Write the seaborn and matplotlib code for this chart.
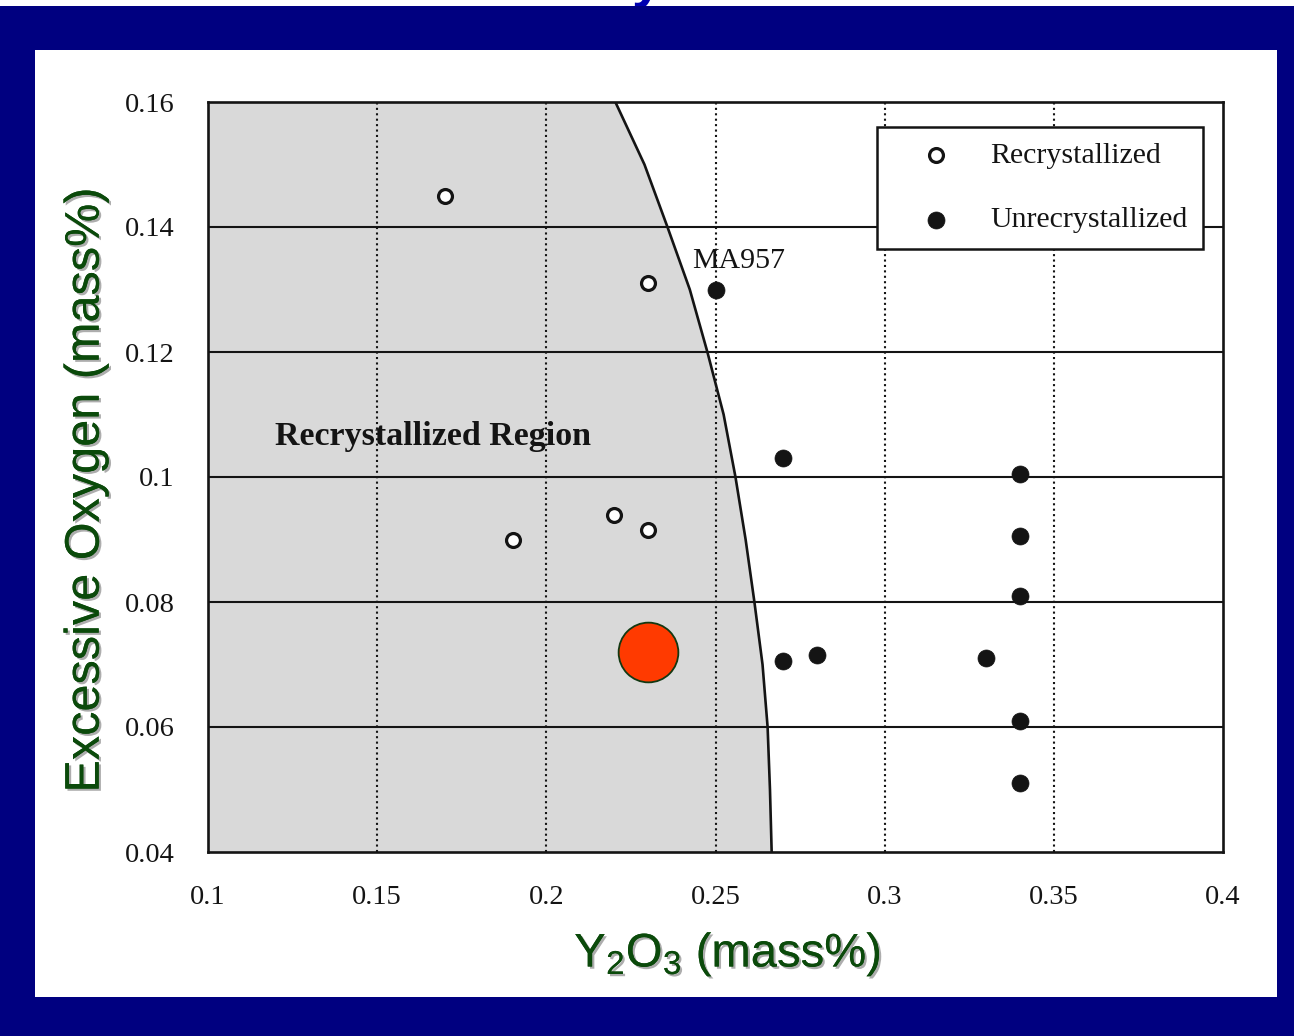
import matplotlib
matplotlib.use("Agg")
import matplotlib.pyplot as plt
import matplotlib.patheffects as pe
from matplotlib.patches import Rectangle
import pandas as pd
import seaborn as sns

# ---- data -------------------------------------------------------------
recryst_x = [0.17, 0.23, 0.19, 0.22, 0.23]
recryst_y = [0.145, 0.131, 0.090, 0.094, 0.0915]

unrecryst_x = [0.25, 0.27, 0.27, 0.28, 0.33, 0.34, 0.34, 0.34, 0.34, 0.34]
unrecryst_y = [0.130, 0.103, 0.0705, 0.0715, 0.071, 0.1005, 0.0905, 0.081, 0.061, 0.051]

highlight_x = [0.23]
highlight_y = [0.072]

# boundary of the recrystallized region (Y2O3 limit at each oxygen level)
boundary_y = [0.04, 0.05, 0.06, 0.07, 0.08, 0.09, 0.10, 0.11, 0.12, 0.13, 0.14, 0.15, 0.16]
boundary_x = [0.2666, 0.2661, 0.2654, 0.2639, 0.2615, 0.2589, 0.2559, 0.2524,
              0.2476, 0.2424, 0.2358, 0.2290, 0.2204]

x_ticks = [0.1, 0.15, 0.2, 0.25, 0.3, 0.35, 0.4]
x_tick_labels = ["0.1", "0.15", "0.2", "0.25", "0.3", "0.35", "0.4"]
y_ticks = [0.04, 0.06, 0.08, 0.10, 0.12, 0.14, 0.16]
y_tick_labels = ["0.04", "0.06", "0.08", "0.1", "0.12", "0.14", "0.16"]

# ---- style ------------------------------------------------------------
sns.set_theme(style="white")
plt.rcParams["font.family"] = ["Liberation Serif", "DejaVu Serif"]
plt.rcParams["mathtext.default"] = "regular"

NAVY = "#000080"
LABEL_GREEN = "#0b4a0b"
INK = "#141414"

W, H = 1294, 1036
fig = plt.figure(figsize=(W / 100, H / 100), dpi=100, facecolor=NAVY)

# slide frame: white strip on top, navy band, white panel
fig.add_artist(Rectangle((0, 1 - 6 / H), 1, 6 / H, transform=fig.transFigure,
                         facecolor="white", edgecolor="none", zorder=-3))
fig.text(647 / W, 1 + 4 / H, "y", color="#0000b0", fontsize=40,
         fontweight="bold", family=["Liberation Sans"], ha="center",
         va="baseline", zorder=-2)
fig.add_artist(Rectangle((0, 1 - 50 / H), 1, 44 / H, transform=fig.transFigure,
                         facecolor=NAVY, edgecolor="none", zorder=-1))
fig.add_artist(Rectangle((35 / W, 1 - 997 / H), 1242 / W, 947 / H,
                         transform=fig.transFigure, facecolor="white",
                         edgecolor="none", zorder=-1))

ax = fig.add_axes([208 / W, 1 - 852 / H, 1015 / W, 750 / H])
ax.set_facecolor("white")
ax.set_zorder(1)

# shaded recrystallized region and its boundary
ax.fill_betweenx(boundary_y, 0.1, boundary_x, color="#d9d9d9", zorder=0.5, lw=0)
ax.plot(boundary_x, boundary_y, color=INK, lw=1.9, zorder=2, solid_joinstyle="round")

# grid: solid horizontals, dotted verticals
for yv in y_ticks[1:-1]:
    ax.axhline(yv, color=INK, lw=1.5, zorder=1.5)
for xv in x_ticks[1:-1]:
    ax.axvline(xv, color=INK, lw=1.5, ls=(0, (1, 1.6)), zorder=1.5)

df_r = pd.DataFrame({"x": recryst_x, "y": recryst_y})
df_u = pd.DataFrame({"x": unrecryst_x, "y": unrecryst_y})
df_h = pd.DataFrame({"x": highlight_x, "y": highlight_y})

sns.scatterplot(data=df_r, x="x", y="y", ax=ax, s=100, color="white",
                edgecolor=INK, linewidth=2.3, label="Recrystallized", zorder=3)
sns.scatterplot(data=df_u, x="x", y="y", ax=ax, s=150, color=INK,
                edgecolor=INK, linewidth=0.5, label="Unrecrystallized", zorder=3)
sns.scatterplot(data=df_h, x="x", y="y", ax=ax, s=1850, color="#ff3a00",
                edgecolor="#123812", linewidth=1.3, zorder=4, legend=False)

ax.text(0.2432, 0.1346, "MA957", fontsize=21.5, color=INK, va="center", ha="left", zorder=3)
ax.text(0.1198, 0.1064, "Recrystallized Region", fontsize=24.5, fontweight="bold",
        color=INK, va="center", ha="left", zorder=3)

leg = ax.legend(loc="upper right", bbox_to_anchor=(0.980, 0.967), borderaxespad=0,
                frameon=True, fancybox=False, fontsize=21.5, labelspacing=1.25,
                handletextpad=0.35, borderpad=0.52, handlelength=2.9,
                markerscale=1.0)
leg.get_frame().set_edgecolor(INK)
leg.get_frame().set_linewidth(1.8)
leg.get_frame().set_facecolor("white")
leg.get_frame().set_alpha(1)
for t in leg.get_texts():
    t.set_color(INK)

ax.set_xlim(0.1, 0.4)
ax.set_ylim(0.04, 0.16)
ax.set_xticks(x_ticks)
ax.set_xticklabels(x_tick_labels)
ax.set_yticks(y_ticks)
ax.set_yticklabels(y_tick_labels)
ax.tick_params(axis="both", length=0, labelsize=20.5, labelcolor=INK)
ax.tick_params(axis="x", pad=24)
ax.tick_params(axis="y", pad=24)
for s in ax.spines.values():
    s.set_visible(True)
    s.set_color(INK)
    s.set_linewidth(1.9)

shadow = [pe.withSimplePatchShadow(offset=(1.6, -1.6), shadow_rgbFace="#8a8a8a", alpha=0.7),
          pe.Normal()]
ax.set_xlabel("Y$_2$O$_3$ (mass%)", fontsize=34, color=LABEL_GREEN,
              family=["Liberation Sans"], va="center", path_effects=shadow)
ax.xaxis.set_label_coords(0.512, -0.137)
ax.set_ylabel("Excessive Oxygen (mass%)", fontsize=35, color=LABEL_GREEN,
              family=["Liberation Sans"], va="center", path_effects=shadow)
ax.yaxis.set_label_coords(-0.12, 0.483)

fig.savefig("out.png", dpi=100, facecolor=NAVY)
